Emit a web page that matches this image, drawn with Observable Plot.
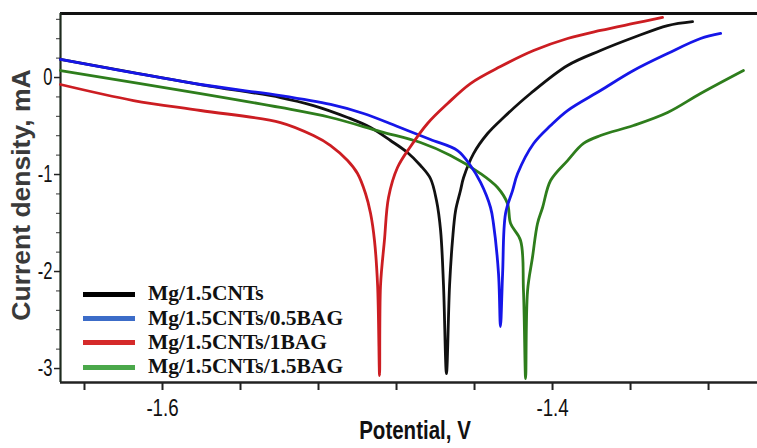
<!DOCTYPE html>
<html><head><meta charset="utf-8">
<script src="https://cdn.jsdelivr.net/npm/d3@7"></script>
<script src="https://cdn.jsdelivr.net/npm/@observablehq/plot@0.6"></script>
<style>
html,body{margin:0;padding:0;background:#fff;}
#wrap{position:relative;width:757px;height:448px;overflow:hidden;background:#fff;}
#legend{position:absolute;left:83px;top:282px;font-family:"Liberation Serif","Times New Roman",serif;font-weight:bold;font-size:21.5px;color:#111;line-height:1;}
.row{display:flex;align-items:center;height:24.3px;white-space:nowrap;}
.sw{width:52px;height:5px;margin-right:13px;flex:none;}
</style></head><body><div id="wrap"><div id="legend"></div></div>
<script>
// ---- data (Potential in V, Current density in mA) ----
const seriesNames = ["Mg/1.5CNTs", "Mg/1.5CNTs/0.5BAG", "Mg/1.5CNTs/1BAG", "Mg/1.5CNTs/1.5BAG"];
const curveColors = ["#111111", "#1616e8", "#cc1d22", "#2e7d1c"];
const legendColors = ["#000000", "#3c6cc8", "#d52a2a", "#4aa84a"];

const blackPotential = [-1.6523, -1.5805, -1.5395, -1.5226, -1.5051, -1.4933, -1.4831, -1.4744, -1.4677, -1.4626, -1.4595, -1.4574, -1.4559, -1.4544, -1.4528, -1.4513, -1.4497, -1.4472, -1.4456, -1.4405, -1.4333, -1.4251, -1.4113, -1.3923, -1.3754, -1.3585, -1.3410, -1.3282];
const blackCurrent   = [0.186, -0.072, -0.206, -0.289, -0.412, -0.515, -0.649, -0.773, -0.907, -1.041, -1.268, -1.577, -2.144, -3.052, -2.144, -1.680, -1.371, -1.165, -1.031, -0.784, -0.577, -0.412, -0.165, 0.124, 0.278, 0.412, 0.536, 0.577];

const bluePotential = [-1.6523, -1.5805, -1.5395, -1.5138, -1.4969, -1.4795, -1.4626, -1.4487, -1.4421, -1.4369, -1.4318, -1.4303, -1.4277, -1.4267, -1.4256, -1.4241, -1.4205, -1.4179, -1.4097, -1.4010, -1.3923, -1.3754, -1.3585, -1.3410, -1.3241, -1.3138];
const blueCurrent   = [0.186, -0.072, -0.186, -0.278, -0.371, -0.505, -0.639, -0.753, -0.907, -1.082, -1.340, -1.505, -2.021, -2.567, -2.021, -1.402, -1.165, -0.990, -0.680, -0.495, -0.340, -0.134, 0.072, 0.247, 0.402, 0.454];

const redPotential = [-1.6523, -1.6149, -1.5805, -1.5395, -1.5226, -1.5138, -1.5051, -1.5000, -1.4959, -1.4933, -1.4913, -1.4897, -1.4887, -1.4882, -1.4862, -1.4841, -1.4795, -1.4728, -1.4641, -1.4538, -1.4421, -1.4267, -1.4097, -1.3923, -1.3754, -1.3585, -1.3436];
const redCurrent   = [-0.072, -0.237, -0.340, -0.464, -0.598, -0.701, -0.856, -0.990, -1.196, -1.402, -1.680, -2.144, -3.072, -2.144, -1.680, -1.237, -0.928, -0.711, -0.474, -0.268, -0.062, 0.113, 0.278, 0.402, 0.485, 0.557, 0.619];

const greenPotential = [-1.6523, -1.5805, -1.5395, -1.5138, -1.4882, -1.4677, -1.4523, -1.4369, -1.4282, -1.4231, -1.4215, -1.4164, -1.4149, -1.4138, -1.4128, -1.4103, -1.4077, -1.4051, -1.4010, -1.3923, -1.3841, -1.3754, -1.3585, -1.3410, -1.3241, -1.3021];
const greenCurrent   = [0.072, -0.165, -0.309, -0.412, -0.557, -0.670, -0.804, -0.990, -1.134, -1.299, -1.505, -1.680, -2.196, -3.103, -2.196, -1.856, -1.505, -1.340, -1.062, -0.856, -0.680, -0.598, -0.495, -0.361, -0.165, 0.072];

const xTickMarks  = [-1.64, -1.60, -1.56, -1.52, -1.48, -1.44, -1.40, -1.36, -1.32];
const xTickLabels = [-1.6, -1.4];
const yTickLabels = [0, -1, -2, -3];
const yMinorTicks = [0.6, 0.4, 0.2, -0.2, -0.4, -0.6, -0.8, -1.2, -1.4, -1.6, -1.8, -2.2, -2.4, -2.6, -2.8];
const xDomain = [-1.6523, -1.2949];
const yDomain = [-3.144, 0.66];
const xLabel = "Potential, V";
const yLabel = "Current density, mA";

// ---- build table ----
const seriesData = [
  [blackPotential, blackCurrent],
  [bluePotential, blueCurrent],
  [redPotential, redCurrent],
  [greenPotential, greenCurrent]
];
const drawOrder = [0, 3, 1, 2];
const lines = drawOrder.map(i => {
  const [px, cy] = seriesData[i];
  const rows = px.map((p, k) => ({potential: p, current: cy[k]}));
  return Plot.line(rows, {x: "potential", y: "current", stroke: curveColors[i], strokeWidth: 2.8, curve: "catmull-rom"});
});

const sansFont = '"Liberation Sans",Arial,sans-serif';

const chart = Plot.plot({
  width: 757, height: 448,
  marginLeft: 60, marginRight: 0, marginTop: 13, marginBottom: 66,
  x: {domain: xDomain},
  y: {domain: yDomain},
  style: {background: "white", overflow: "visible"},
  marks: [
    Plot.axisX({ticks: xTickMarks, tickSize: 8, text: null, label: null, strokeWidth: 2, stroke: "#222"}),
    Plot.axisX({ticks: xTickLabels, tickSize: 0, tickPadding: 16, fontSize: 24, fontFamily: sansFont, fill: "#111", tickFormat: d => String(d), label: null}),
    Plot.axisY({ticks: yMinorTicks, tickSize: 4, text: null, label: null, stroke: "#333"}),
    Plot.axisY({ticks: yTickLabels, tickSize: 6, tickPadding: 2, fontSize: 23, fontFamily: sansFont, fill: "#111", stroke: "#222", strokeWidth: 1.5, tickFormat: d => String(d), label: null}),
    Plot.ruleY([yDomain[1]], {stroke: "#111", strokeWidth: 3}),
    Plot.ruleY([yDomain[0]], {stroke: "#222", strokeWidth: 2.5}),
    Plot.ruleX([xDomain[0]], {stroke: "#1e2a1e", strokeWidth: 2.2}),
    ...lines,
    Plot.text([xLabel], {frameAnchor: "bottom", dy: 56, dx: 6, fontSize: 25, fontWeight: "bold", fontFamily: sansFont, fill: "#111"}),
    Plot.text([yLabel], {frameAnchor: "left", textAnchor: "middle", lineAnchor: "middle", dx: -39, dy: -3, rotate: -90, fontSize: 26.5, fontWeight: "bold", fontFamily: sansFont, fill: "#3a3a3a", letterSpacing: "0.8px"})
  ]
});
const wrap = document.getElementById("wrap");
wrap.insertBefore(chart, wrap.firstChild);

// condensed look of tick labels and x label (horizontal squeeze around each text's anchor)
function squeeze(t, k) {
  const tr = t.getAttribute("transform") || "";
  const x = +t.getAttribute("x") || 0;
  t.setAttribute("transform", `${tr} translate(${x},0) scale(${k},1) translate(${-x},0)`);
}
chart.querySelectorAll('g[aria-label="x-axis tick label"] text').forEach(t => squeeze(t, 0.78));
chart.querySelectorAll('g[aria-label="y-axis tick label"] text').forEach(t => squeeze(t, 0.72));
chart.querySelectorAll("text").forEach(t => { if (t.textContent === xLabel) squeeze(t, 0.82); });

// legend inside the plot area (HTML overlay)
const legend = document.getElementById("legend");
seriesNames.forEach((name, i) => {
  const row = document.createElement("div");
  row.className = "row";
  const sw = document.createElement("div");
  sw.className = "sw";
  sw.style.background = legendColors[i];
  const t = document.createElement("span");
  t.textContent = name;
  row.appendChild(sw); row.appendChild(t);
  legend.appendChild(row);
});
</script>
</body></html>
